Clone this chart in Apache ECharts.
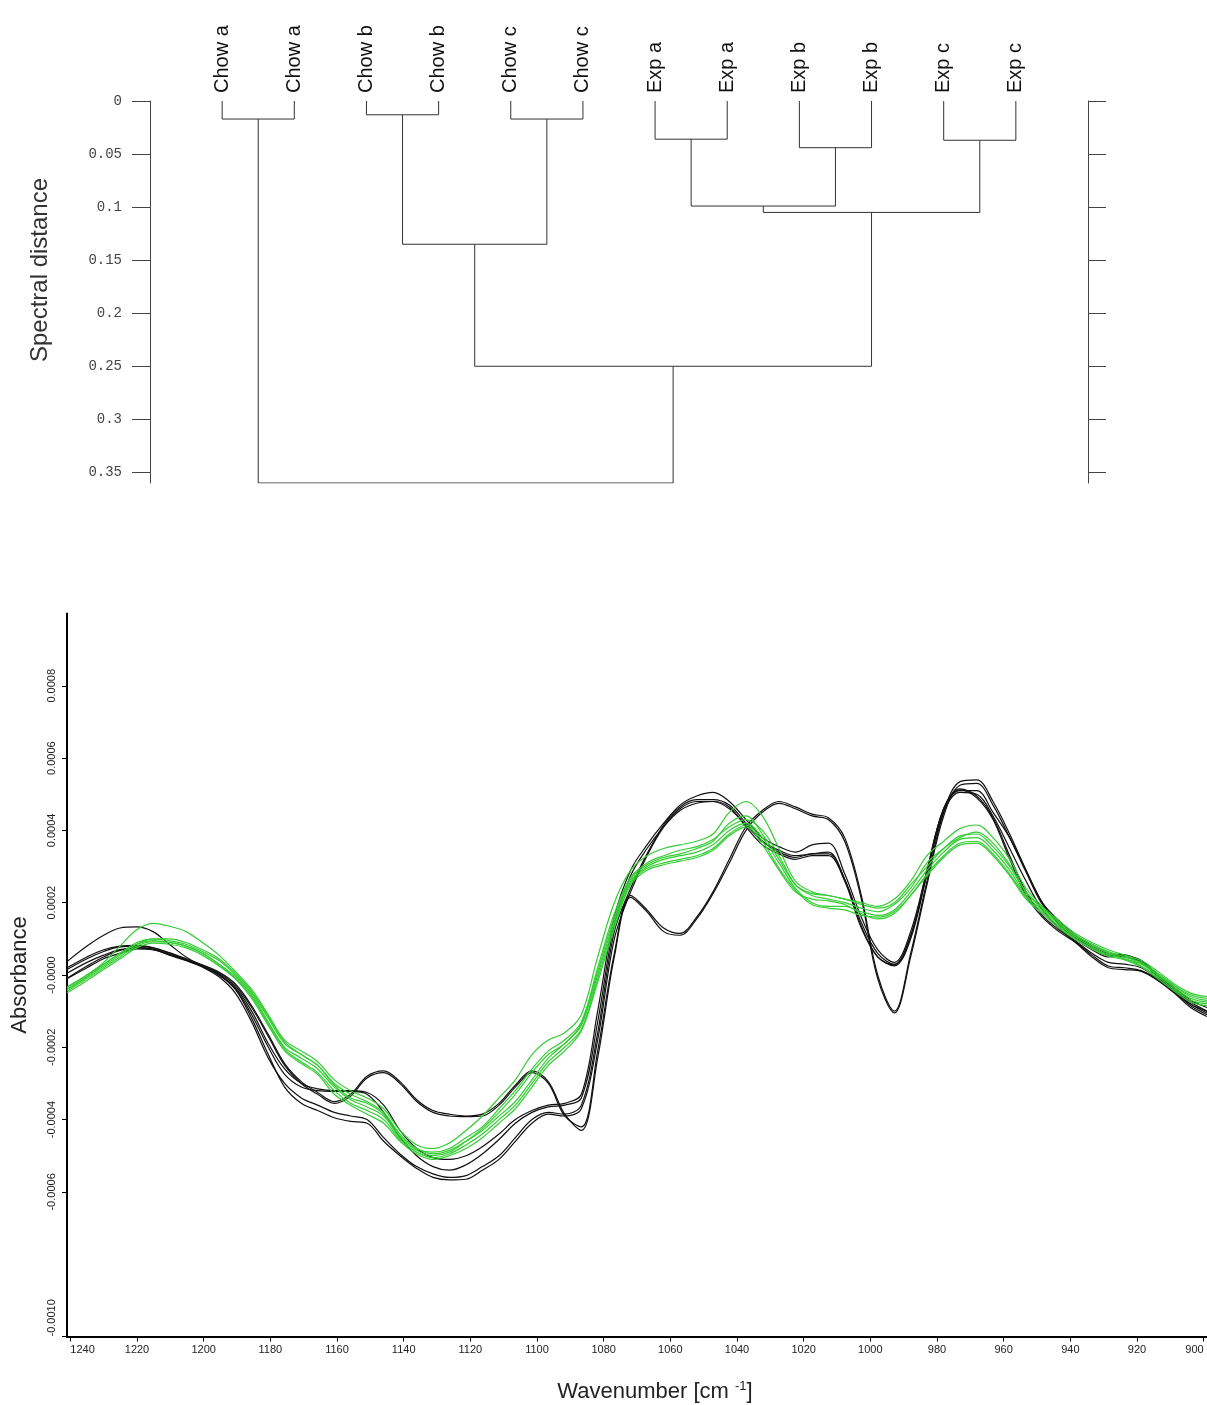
<!DOCTYPE html>
<html>
<head>
<meta charset="utf-8">
<script src="https://cdn.jsdelivr.net/npm/echarts@6/dist/echarts.min.js"></script>
<style>html,body{margin:0;padding:0;background:#fff}#c{width:1207px;height:1405px}</style>
</head>
<body>
<div id="c"></div>
<script>
// ---------- Dendrogram data ----------
const leafLabels = ['Chow a','Chow a','Chow b','Chow b','Chow c','Chow c','Exp a','Exp a','Exp b','Exp b','Exp c','Exp c'];
// merges: node ids 0..11 are leaves, merge k creates node 12+k
const mergeLeft   = [0, 2, 4, 6, 8, 10, 15, 18, 13, 20, 12];
const mergeRight  = [1, 3, 5, 7, 9, 11, 16, 17, 14, 19, 21];
const mergeHeight = [0.017, 0.013, 0.017, 0.036, 0.044, 0.037, 0.099, 0.105, 0.135, 0.25, 0.36];
const distanceTicks = [0, 0.05, 0.1, 0.15, 0.2, 0.25, 0.3, 0.35];

// ---------- Spectra data (absorbance in units of 1e-4), read at these wavenumbers ----------
const wavenumbers = [1241.0,1235.0,1230.0,1225.1,1220.1,1215.2,1210.3,1205.3,1200.4,1195.4,1190.5,1185.6,1180.6,1175.7,1170.7,1165.8,1160.8,1155.9,1151.0,1146.0,1141.1,1136.1,1131.2,1126.3,1121.3,1116.4,1111.4,1106.5,1101.5,1096.6,1091.7,1086.7,1081.8,1076.8,1071.9,1067.0,1062.0,1057.1,1052.1,1047.2,1042.3,1037.3,1032.4,1027.4,1022.5,1017.5,1012.6,1007.7,1002.7,997.8,992.8,987.9,983.0,978.0,973.1,968.1,963.2,958.2,953.3,948.4,943.4,938.5,933.5,928.6,923.7,918.7,913.8,908.8,903.9,899.0];
const wnTicks = [1240,1220,1200,1180,1160,1140,1120,1100,1080,1060,1040,1020,1000,980,960,940,920,900];
const absTicks = [0.0008, 0.0006, 0.0004, 0.0002, 0, -0.0002, -0.0004, -0.0006, -0.001];
const unit = 1e-4;

const chowA1 = [0.15,0.45,0.65,0.78,0.8,0.75,0.6,0.42,0.25,0.05,-0.3,-0.9,-1.7,-2.5,-3.0,-3.3,-3.55,-3.35,-2.85,-2.7,-3.0,-3.5,-3.8,-3.9,-3.92,-3.9,-3.6,-3.1,-2.7,-3.0,-3.9,-4.2,-2.1,0.6,2.2,1.8,1.3,1.15,1.6,2.3,3.2,4.1,4.55,4.8,4.65,4.45,4.35,3.8,2.2,0.0,-1.0,0.6,2.6,4.5,5.35,5.4,4.8,3.9,2.9,2.0,1.5,1.1,0.8,0.6,0.55,0.4,0.0,-0.4,-0.75,-1.0];
const chowA2 = [0.2,0.5,0.7,0.8,0.82,0.76,0.62,0.45,0.28,0.08,-0.25,-0.85,-1.65,-2.45,-2.95,-3.25,-3.5,-3.3,-2.8,-2.65,-2.95,-3.45,-3.75,-3.85,-3.9,-3.85,-3.55,-3.05,-2.65,-2.95,-3.85,-4.3,-2.3,0.5,2.15,1.75,1.2,1.1,1.55,2.25,3.1,4.0,4.5,4.75,4.6,4.4,4.3,3.7,2.1,-0.1,-1.05,0.5,2.5,4.4,5.25,5.3,4.7,3.8,2.85,1.95,1.45,1.05,0.75,0.55,0.5,0.35,-0.05,-0.45,-0.8,-1.05];
const chowB1 = [0.37,0.8,1.1,1.3,1.33,1.2,0.85,0.5,0.25,0.0,-0.35,-1.0,-1.9,-2.6,-3.0,-3.15,-3.2,-3.2,-3.25,-3.6,-4.3,-4.8,-5.05,-5.1,-5.0,-4.75,-4.4,-4.0,-3.75,-3.6,-3.55,-3.3,-1.0,1.6,2.9,3.6,4.2,4.7,4.95,5.05,4.8,4.3,3.8,3.55,3.4,3.6,3.65,2.8,1.6,0.7,0.35,1.2,2.9,4.6,5.1,5.1,4.5,3.8,2.9,2.0,1.4,1.0,0.7,0.5,0.55,0.35,0.0,-0.35,-0.7,-0.9];
const chowB2 = [-0.09,0.25,0.5,0.68,0.76,0.72,0.58,0.42,0.25,0.02,-0.38,-1.1,-2.0,-2.75,-3.1,-3.2,-3.22,-3.22,-3.3,-3.8,-4.5,-5.0,-5.3,-5.4,-5.25,-4.95,-4.55,-4.1,-3.8,-3.65,-3.6,-3.4,-1.3,1.4,2.75,3.5,4.1,4.55,4.75,4.8,4.6,4.15,3.7,3.45,3.3,3.35,3.4,2.65,1.45,0.6,0.3,1.1,2.8,4.5,5.05,5.0,4.4,3.5,2.6,1.8,1.3,0.95,0.6,0.35,0.3,0.2,-0.1,-0.45,-0.8,-1.0];
const chowC1 = [-0.1,0.2,0.45,0.6,0.72,0.7,0.55,0.4,0.25,0.0,-0.4,-1.2,-2.2,-3.1,-3.55,-3.75,-3.95,-4.05,-4.1,-4.6,-5.0,-5.35,-5.6,-5.67,-5.65,-5.4,-5.1,-4.6,-4.1,-3.85,-3.9,-3.7,-1.8,1.0,2.3,3.3,4.1,4.6,4.8,4.8,4.65,4.1,3.6,3.35,3.2,3.3,3.3,2.6,1.3,0.5,0.25,1.0,2.8,4.6,5.12,4.9,4.3,3.2,2.2,1.6,1.2,0.9,0.5,0.2,0.15,0.1,-0.15,-0.5,-0.9,-1.15];
const chowC2 = [0.05,0.35,0.55,0.7,0.75,0.7,0.56,0.4,0.22,-0.05,-0.5,-1.3,-2.3,-3.0,-3.4,-3.6,-3.8,-3.9,-4.0,-4.5,-4.95,-5.3,-5.5,-5.6,-5.55,-5.3,-5.0,-4.5,-4.0,-3.8,-3.85,-3.6,-1.6,1.2,2.4,3.35,4.15,4.65,4.85,4.85,4.7,4.2,3.7,3.4,3.25,3.35,3.35,2.65,1.35,0.5,0.28,1.05,2.9,4.6,5.15,4.95,4.35,3.3,2.3,1.65,1.25,0.92,0.55,0.25,0.2,0.12,-0.12,-0.48,-0.85,-1.1];

const expA1 = [-0.35,0.0,0.35,0.8,1.25,1.43,1.35,1.2,0.9,0.55,0.1,-0.4,-1.1,-1.8,-2.1,-2.4,-2.9,-3.2,-3.4,-3.7,-4.3,-4.7,-4.8,-4.65,-4.3,-3.9,-3.4,-2.9,-2.2,-1.8,-1.6,-1.1,0.5,2.0,2.9,3.3,3.5,3.6,3.7,3.9,4.5,4.8,4.4,3.5,2.6,2.3,2.2,2.1,2.0,1.9,2.1,2.6,3.3,3.7,4.05,4.15,3.8,3.2,2.4,1.9,1.5,1.15,0.9,0.7,0.55,0.4,0.1,-0.25,-0.5,-0.6];
const expA2 = [-0.4,-0.05,0.3,0.6,0.9,1.0,0.95,0.85,0.65,0.4,0.0,-0.5,-1.2,-1.9,-2.2,-2.5,-3.0,-3.3,-3.5,-3.8,-4.4,-4.8,-4.9,-4.8,-4.5,-4.2,-3.7,-3.2,-2.6,-2.1,-1.8,-1.3,0.2,1.7,2.7,3.1,3.3,3.45,3.55,3.75,4.1,4.3,4.0,3.3,2.5,2.2,2.1,2.0,1.85,1.75,1.95,2.4,3.1,3.5,3.85,3.9,3.55,3.0,2.3,1.85,1.45,1.1,0.85,0.65,0.5,0.35,0.05,-0.3,-0.6,-0.7];
const expB1 = [-0.45,-0.1,0.2,0.5,0.8,0.92,0.9,0.8,0.6,0.3,-0.05,-0.55,-1.3,-2.0,-2.3,-2.6,-3.1,-3.45,-3.65,-3.9,-4.5,-4.85,-5.0,-4.9,-4.6,-4.3,-3.9,-3.5,-2.9,-2.3,-1.9,-1.4,0.0,1.5,2.6,3.0,3.2,3.3,3.4,3.6,4.0,4.2,3.8,3.1,2.4,2.0,1.9,1.9,1.75,1.65,1.8,2.3,2.9,3.4,3.75,3.8,3.45,2.9,2.2,1.8,1.4,1.05,0.8,0.6,0.45,0.3,0.0,-0.35,-0.65,-0.75];
const expB2 = [-0.5,-0.15,0.15,0.45,0.75,0.88,0.85,0.75,0.55,0.25,-0.1,-0.6,-1.35,-2.05,-2.4,-2.7,-3.2,-3.55,-3.75,-4.0,-4.55,-4.9,-5.05,-4.95,-4.7,-4.4,-4.0,-3.6,-3.0,-2.4,-2.0,-1.5,-0.1,1.4,2.55,2.95,3.1,3.2,3.3,3.5,3.9,4.15,3.7,2.95,2.35,1.95,1.85,1.8,1.65,1.6,1.75,2.2,2.8,3.3,3.65,3.7,3.35,2.8,2.15,1.75,1.35,1.0,0.75,0.55,0.45,0.25,-0.05,-0.4,-0.7,-0.8];
const expC1 = [-0.4,-0.05,0.25,0.55,0.85,0.95,0.9,0.8,0.6,0.3,-0.1,-0.65,-1.4,-2.1,-2.45,-2.75,-3.3,-3.6,-3.85,-4.1,-4.6,-4.95,-5.1,-5.0,-4.8,-4.5,-4.1,-3.7,-3.1,-2.5,-2.1,-1.55,-0.2,1.3,2.5,2.9,3.05,3.15,3.25,3.45,3.85,4.1,3.6,2.9,2.3,2.1,2.05,1.95,1.7,1.55,1.7,2.2,2.75,3.25,3.6,3.65,3.3,2.75,2.1,1.7,1.3,0.98,0.72,0.52,0.42,0.22,-0.1,-0.45,-0.75,-0.85];
const expC2 = [-0.33,0.0,0.3,0.6,0.85,1.0,1.0,0.9,0.7,0.45,0.05,-0.45,-1.15,-1.85,-2.2,-2.5,-3.05,-3.4,-3.55,-3.85,-4.45,-4.8,-4.95,-4.85,-4.6,-4.25,-3.8,-3.3,-2.7,-2.2,-1.9,-1.35,0.1,1.6,2.65,3.05,3.25,3.35,3.5,3.7,4.2,4.4,3.9,3.2,2.5,2.25,2.2,2.1,1.95,1.85,2.0,2.5,3.0,3.5,3.8,3.95,3.65,3.05,2.3,1.85,1.45,1.1,0.85,0.62,0.5,0.32,0.0,-0.3,-0.55,-0.65];

const chowSeries = [chowA1, chowA2, chowB1, chowB2, chowC1, chowC2];
const expSeries  = [expA1, expA2, expB1, expB2, expC1, expC2];

// ---------- build ----------
const nodeX = leafLabels.map((_, i) => i);
const nodeH = leafLabels.map(() => 0);
const dendroSeries = [];
mergeHeight.forEach((H, k) => {
  const l = mergeLeft[k], r = mergeRight[k];
  nodeX.push((nodeX[l] + nodeX[r]) / 2);
  nodeH.push(H);
  dendroSeries.push({
    type: 'line', xAxisIndex: 0, yAxisIndex: 0, symbol: 'none', silent: true,
    lineStyle: { color: '#333', width: 1 },
    data: [[nodeX[l], nodeH[l]], [nodeX[l], H], [nodeX[r], H], [nodeX[r], nodeH[r]]]
  });
});

function spectrum(arr, color) {
  return {
    type: 'line', xAxisIndex: 1, yAxisIndex: 2, symbol: 'none', smooth: 0.35, silent: true,
    lineStyle: { color: color, width: 1.2 },
    data: wavenumbers.map((w, i) => [w, +(arr[i] * unit).toFixed(8)])
  };
}
const spectraSeries = [
  ...chowSeries.map(a => spectrum(a, '#111111')),
  ...expSeries.map(a => spectrum(a, '#33cc33'))
];

const chart = echarts.init(document.getElementById('c'), null, { renderer: 'canvas' });
chart.setOption({
  animation: false,
  backgroundColor: '#fff',
  grid: [
    { left: 150, top: 101, width: 938, height: 382, containLabel: false, outerBoundsMode: 'none' },
    { left: 67, top: 613.5, width: 1140, height: 723, containLabel: false, outerBoundsMode: 'none' }
  ],
  xAxis: [
    {
      gridIndex: 0, type: 'value', position: 'top', min: -1, max: 12, interval: 1,
      axisLine: { show: false }, axisTick: { show: false }, splitLine: { show: false },
      axisLabel: {
        rotate: 90, margin: 8, fontSize: 20, color: '#111', fontFamily: 'Liberation Sans, Arial',
        formatter: v => (leafLabels[v] !== undefined ? leafLabels[v] : '')
      }
    },
    {
      gridIndex: 1, type: 'value', inverse: true, min: 899.0, max: 1241.0,
      axisLine: { show: true, onZero: false, lineStyle: { color: '#000', width: 2 } },
      axisTick: { show: true, length: 5, customValues: wnTicks, lineStyle: { color: '#000' } },
      axisLabel: { customValues: wnTicks, fontSize: 11, color: '#222', margin: 8,
        alignMinLabel: 'left', alignMaxLabel: 'right',
        fontFamily: 'Liberation Sans Narrow, Liberation Sans, Arial',
        formatter: v => String(v) },
      splitLine: { show: false },
      name: 'Wavenumber [cm {sup|-1}]', nameLocation: 'middle', nameGap: 43,
      nameTextStyle: { fontSize: 22, color: '#222', fontFamily: 'Liberation Sans, Arial', padding: [0, 0, 0, 36],
        rich: { sup: { fontSize: 13, color: '#222', padding: [0, 0, 11, 0], fontFamily: 'Liberation Sans, Arial' } } }
    }
  ],
  yAxis: [
    {
      gridIndex: 0, type: 'value', inverse: true, min: 0, max: 0.36, position: 'left',
      axisLine: { show: true, onZero: false, lineStyle: { color: '#444', width: 1 } },
      axisTick: { show: true, length: 18, customValues: distanceTicks, lineStyle: { color: '#444' } },
      axisLabel: { customValues: distanceTicks, fontSize: 14, color: '#444', margin: 28,
        fontFamily: 'Liberation Mono, DejaVu Sans Mono, monospace' },
      splitLine: { show: false },
      name: 'Spectral distance', nameLocation: 'middle', nameGap: 98,
      nameTextStyle: { fontSize: 24, color: '#333', fontFamily: 'Liberation Sans, Arial', padding: [0, 0, 0, 44] }
    },
    {
      gridIndex: 0, type: 'value', inverse: true, min: 0, max: 0.36, position: 'right',
      axisLine: { show: true, onZero: false, lineStyle: { color: '#444', width: 1 } },
      axisTick: { show: true, length: 18, customValues: distanceTicks, lineStyle: { color: '#444' } },
      axisLabel: { show: false },
      splitLine: { show: false }
    },
    {
      gridIndex: 1, type: 'value', min: -0.001, max: 0.001,
      axisLine: { show: true, onZero: false, lineStyle: { color: '#000', width: 2 } },
      axisTick: { show: true, length: 5, customValues: absTicks, lineStyle: { color: '#000' } },
      axisLabel: { customValues: absTicks, rotate: 90, fontSize: 11, color: '#222', margin: 10,
        alignMaxLabel: 'left',
        fontFamily: 'Liberation Sans, Arial',
        formatter: v => (Math.abs(v) < 1e-12 ? '-0.0000' : v.toFixed(4)) },
      splitLine: { show: false },
      name: 'Absorbance', nameLocation: 'middle', nameGap: 36,
      nameTextStyle: { fontSize: 22, color: '#222', fontFamily: 'Liberation Sans, Arial' }
    }
  ],
  series: [...dendroSeries, ...spectraSeries]
});
</script>
</body>
</html>
